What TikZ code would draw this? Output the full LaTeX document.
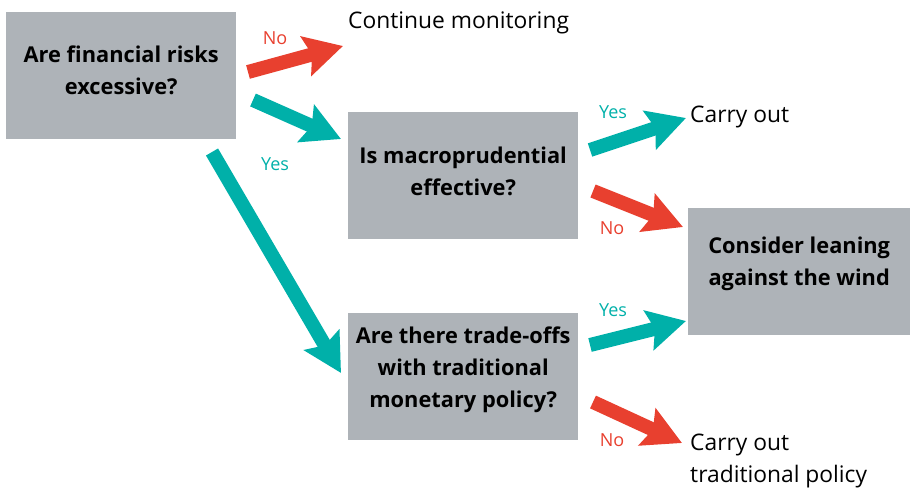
\documentclass[tikz,border=0pt]{standalone}
\usepackage{fontspec}
\setmainfont{Open Sans}
\usetikzlibrary{arrows.meta}
\definecolor{boxgray}{HTML}{AEB3B8}
\definecolor{arrred}{HTML}{E8402F}
\definecolor{arrteal}{HTML}{00B0A9}
\tikzset{
  qbox/.style={fill=boxgray, minimum width=230pt, minimum height=127pt, inner sep=0pt,
    anchor=north west},
  qtext/.style={inner sep=0pt, align=center,
    font=\fontsize{21.8}{32}\selectfont\bfseries},
  outcome/.style={anchor=west, inner sep=0pt, align=left, font=\fontsize{22.8}{32}\selectfont},
  fat/.style={line width=14pt, -{Stealth[length=38pt, width=40pt, inset=6pt]}},
  yesarrow/.style={fat, draw=arrteal},
  noarrow/.style={fat, draw=arrred},
  yeslbl/.style={text=arrteal, font=\fontsize{18}{20}\selectfont, inner sep=0pt},
  nolbl/.style={text=arrred, font=\fontsize{18}{20}\selectfont, inner sep=0pt},
}
\begin{document}
\begin{tikzpicture}[x=1pt, y=-1pt]
  \useasboundingbox (0,0) rectangle (911,488);

  % decision boxes
  \node[qbox] (risks) at (6,12) {};
  \node[qbox] (macro) at (348,112) {};
  \node[qbox] (trade) at (348,313) {};
  \node[qbox, minimum width=222pt] (lean) at (688,208) {};
  \node[qtext] (risks-t) at ([yshift=5pt]risks.center) {Are financial risks\\excessive?};
  \node[qtext] (macro-t) at ([yshift=4pt]macro.center) {Is macroprudential\\effective?};
  \node[qtext] (trade-t) at ([yshift=7pt]trade.center) {Are there trade-offs\\with traditional\\monetary policy?};
  \node[qtext] (lean-t)  at ([yshift=8pt]lean.center)  {Consider leaning\\against the wind};

  % outcomes
  \node[outcome] (monitor) at (348,23) {Continue monitoring};
  \node[outcome] (carry) at (690,117) {Carry out};
  \node[outcome] (trad) at (690,461) {Carry out\\traditional policy};

  % arrow end points
  \coordinate (r1s) at (248,72);  \coordinate (r1e) at (343,46);
  \coordinate (r2s) at (253,100); \coordinate (r2e) at (341,139);
  \coordinate (r3s) at (212,152); \coordinate (r3e) at (341,373);
  \coordinate (m1s) at (590,150); \coordinate (m1e) at (686,118);
  \coordinate (m2s) at (593,191); \coordinate (m2e) at (683,227);
  \coordinate (t1s) at (590,345); \coordinate (t1e) at (686,321);
  \coordinate (t2s) at (593,402); \coordinate (t2e) at (682,443);

  \draw[noarrow]  (r1s) -- (r1e);
  \draw[yesarrow] (r2s) -- (r2e);
  \draw[yesarrow] (r3s) -- (r3e);
  \draw[yesarrow] (m1s) -- (m1e);
  \draw[noarrow]  (m2s) -- (m2e);
  \draw[yesarrow] (t1s) -- (t1e);
  \draw[noarrow]  (t2s) -- (t2e);

  % branch labels
  \node[nolbl]  (l1) at (275,38)  {No};
  \node[yeslbl] (l2) at (275,164) {Yes};
  \node[yeslbl] (l3) at (613,112) {Yes};
  \node[nolbl]  (l4) at (612,228) {No};
  \node[yeslbl] (l5) at (613,310) {Yes};
  \node[nolbl]  (l6) at (612,440) {No};
\end{tikzpicture}
\end{document}
